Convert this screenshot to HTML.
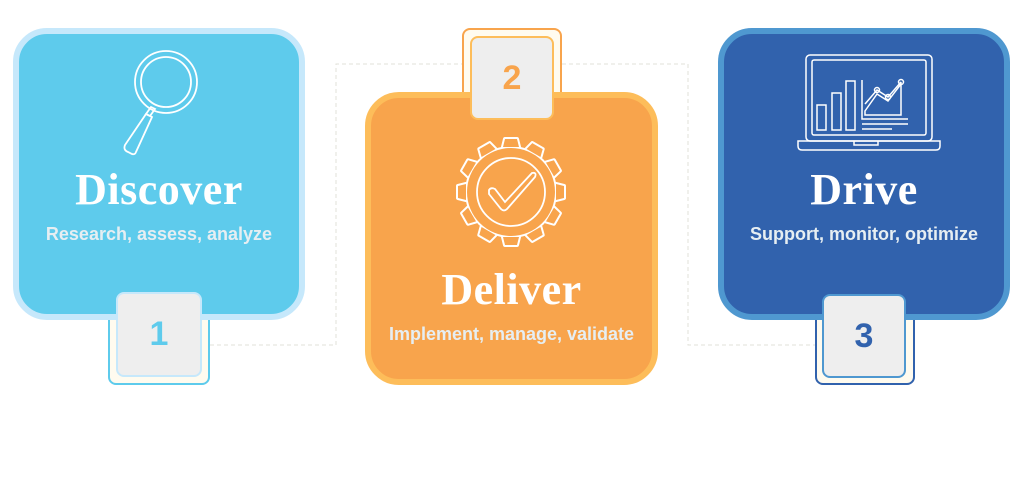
<!DOCTYPE html>
<html><head><meta charset="utf-8"><style>
body{margin:0;width:1024px;height:480px;background:#fff;position:relative;overflow:hidden;font-family:"Liberation Sans",sans-serif}
.a{position:absolute;box-sizing:border-box}
svg{overflow:visible}
.card{border-radius:34px;border-width:6px;border-style:solid}
.t{position:absolute;left:0;width:100%;text-align:center;color:#fff;font-family:"Liberation Serif",serif;font-weight:bold;font-size:44px;letter-spacing:0.5px}
.s{position:absolute;left:0;width:100%;text-align:center;color:#e6eef2;font-weight:bold;font-size:18px}
.frame{border-radius:8px;border:2px solid;background:#fffbef}
.box{border-radius:8px;border:2px solid;background:#eeeeee;text-align:center;font-weight:bold;font-size:34px}
</style></head><body>
<svg class="a" style="left:0;top:0" width="1024" height="480">
<g fill="none" stroke="#e2e2da" stroke-width="1" stroke-dasharray="4,3">
<polyline points="210,345 336,345 336,64 462,64"/>
<polyline points="562,64 688,64 688,345 815,345"/>
</g></svg>

<div class="a frame" style="left:108px;top:290px;width:102px;height:95px;border-color:#5ecbec"></div>
<div class="a card" style="left:13px;top:28px;width:292px;height:292px;background:#5ecbec;border-color:#c6e8fb">
<svg class="a" style="left:100px;top:20px" width="90" height="110" viewBox="0 0 90 110" fill="none" stroke="#fff" stroke-width="1.8">
<circle cx="47" cy="28" r="31"/><circle cx="47" cy="28" r="25"/>
<path d="M32 53 L27 60 L31 62 L36 55 Z"/>
<path d="M27 60 L6 91 Q4 96 9 98 L13 100 Q16 101 17 98 L33 63 Z"/>
</svg>
<div class="t" style="top:130px">Discover</div>
<div class="s" style="top:190px">Research, assess, analyze</div>
</div>
<div class="a box" style="left:116px;top:292px;width:86px;height:85px;border-color:#c6e8fb;color:#5ecbec;line-height:81px">1</div>

<div class="a frame" style="left:462px;top:28px;width:100px;height:80px;border-color:#f8a44c"></div>
<div class="a card" style="left:365px;top:92px;width:293px;height:293px;background:#f8a44c;border-color:#fdbd5a">
<svg class="a" style="left:85px;top:39px" width="110" height="110" viewBox="-55 -55 110 110">
<defs><g id="gear">
<circle r="44"/>
<g id="tooth"><path d="M-8,-45 L-6,-53 L6,-53 L8,-45 Z"/></g>
<use href="#tooth" transform="rotate(30)"/><use href="#tooth" transform="rotate(60)"/><use href="#tooth" transform="rotate(90)"/>
<use href="#tooth" transform="rotate(120)"/><use href="#tooth" transform="rotate(150)"/><use href="#tooth" transform="rotate(180)"/>
<use href="#tooth" transform="rotate(210)"/><use href="#tooth" transform="rotate(240)"/><use href="#tooth" transform="rotate(270)"/>
<use href="#tooth" transform="rotate(300)"/><use href="#tooth" transform="rotate(330)"/>
</g></defs>
<use href="#gear" fill="#fff" stroke="#fff" stroke-width="4" stroke-linejoin="round"/>
<use href="#gear" fill="#f8a44c" stroke="none"/>
<g fill="none" stroke="#fff" stroke-width="1.8">
<circle r="34"/>
<path d="M-22,2 L-10,17 Q-7,20 -4,17 L24,-15 Q26,-20 21,-19 L-6,10 L-16,-3 Q-20,-5 -22,-2 Z"/>
</g>
</svg>
<div class="t" style="top:166px">Deliver</div>
<div class="s" style="top:226px">Implement, manage, validate</div>
</div>
<div class="a box" style="left:470px;top:36px;width:84px;height:84px;border-color:#fdbd5a;color:#f8a44c;line-height:80px">2</div>

<div class="a frame" style="left:815px;top:290px;width:100px;height:95px;border-color:#3162ad"></div>
<div class="a card" style="left:718px;top:28px;width:292px;height:292px;background:#3162ad;border-color:#4f98d0">
<svg class="a" style="left:68px;top:16px" width="150" height="100" viewBox="0 0 150 100" fill="none" stroke="#fff" stroke-width="1.5">
<rect x="14" y="5" width="126" height="86" rx="4"/>
<rect x="20" y="10" width="114" height="75" rx="2"/>
<path d="M6 91 L148 91 L148 96 Q148 100 144 100 L10 100 Q6 100 6 96 Z"/>
<path d="M62 91 L62 95 L86 95 L86 91"/>
<rect x="25" y="55" width="9" height="25"/><rect x="40" y="43" width="9" height="37"/><rect x="54" y="31" width="9" height="49"/>
<path d="M70 30 L70 69 L116 69"/><path d="M70 74 L116 74"/><path d="M70 79 L100 79"/>
<path d="M73 61 L85 44 L96 51 L109 34 L109 65 L73 65 Z"/>
<path d="M73 54 L85 40 L96 47 L109 32"/>
<circle cx="85" cy="40" r="2.5"/><circle cx="96" cy="47" r="2.5"/><circle cx="109" cy="32" r="2.5"/>
</svg>
<div class="t" style="top:130px">Drive</div>
<div class="s" style="top:190px">Support, monitor, optimize</div>
</div>
<div class="a box" style="left:822px;top:294px;width:84px;height:84px;border-color:#4f98d0;color:#3162ad;line-height:80px">3</div>
</body></html>
